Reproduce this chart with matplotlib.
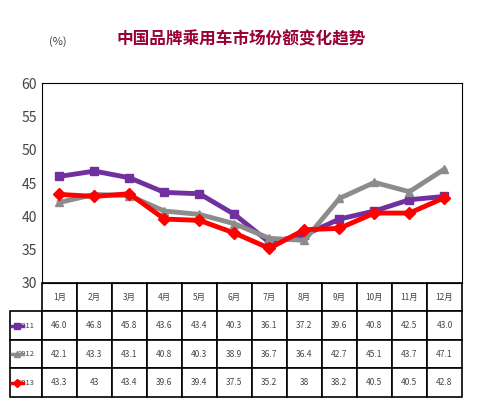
import matplotlib
matplotlib.use("Agg")
import matplotlib.pyplot as plt

plt.rcParams['font.family'] = ['Noto Sans CJK SC', 'DejaVu Sans']

months = ["1月","2月","3月","4月","5月","6月","7月","8月","9月","10月","11月","12月"]
s2011 = [46.0,46.8,45.8,43.6,43.4,40.3,36.1,37.2,39.6,40.8,42.5,43.0]
s2012 = [42.1,43.3,43.1,40.8,40.3,38.9,36.7,36.4,42.7,45.1,43.7,47.1]
s2013 = [43.3,43,43.4,39.6,39.4,37.5,35.2,38,38.2,40.5,40.5,42.8]
l2011 = ["46.0","46.8","45.8","43.6","43.4","40.3","36.1","37.2","39.6","40.8","42.5","43.0"]
l2012 = ["42.1","43.3","43.1","40.8","40.3","38.9","36.7","36.4","42.7","45.1","43.7","47.1"]
l2013 = ["43.3","43","43.4","39.6","39.4","37.5","35.2","38","38.2","40.5","40.5","42.8"]
names = ["2011","2012","2013"]
colors = ["#7030A0","#8C8C8C","#FF0000"]
markers = ["s","^","D"]

fig = plt.figure(figsize=(4.93,4.18), dpi=100)
ax = fig.add_axes([0.085,0.323,0.852,0.478])
x = list(range(12))
for s,c,m in zip([s2011,s2012,s2013],colors,markers):
    ax.plot(x,s,color=c,lw=3.5,marker=m,ms=6,zorder=3)
ax.set_xlim(-0.5,11.5)
ax.set_ylim(30,60)
ax.set_yticks(range(30,61,5))
ax.tick_params(axis='y',labelsize=10,labelcolor='#444444',length=0)
ax.set_xticks([])

cells = [months,l2011,l2012,l2013]
rowlab = ["",names[0],names[1],names[2]]
full = [[r]+c for r,c in zip(rowlab,cells)]
w0 = 32/420
cw = [w0]+[1/12]*12
tb = ax.table(cellText=full,cellLoc='center',colWidths=cw,bbox=[-w0,-0.57,1+w0,0.57])
tb.auto_set_font_size(False)
for (r,c),cell in tb.get_celld().items():
    cell.set_fontsize(6)
    cell.set_linewidth(1.2)
    cell.get_text().set_color('#444444')
    if r==0 and c==0:
        cell.set_edgecolor('white')
    if c==0:
        cell.set_fontsize(5.5)
        cell._loc='right'
        cell.PAD = 0.03
for i,(c,m) in enumerate(zip(colors,markers)):
    yy = -0.57 + 0.57*(3-i-0.5)/4
    ax.plot([-w0+0.004,-w0+0.018,-w0+0.032],[yy,yy,yy],color=c,lw=2.5,marker=m,ms=4,markevery=[1],
            transform=ax.transAxes,clip_on=False)

fig.text(0.49,0.905,"中国品牌乘用车市场份额变化趋势",ha='center',va='center',
         fontsize=12,fontweight='bold',color='#990033')
fig.text(0.1,0.9,"(%)",fontsize=8,color='#444444',va='center')
fig.savefig("out.png")
